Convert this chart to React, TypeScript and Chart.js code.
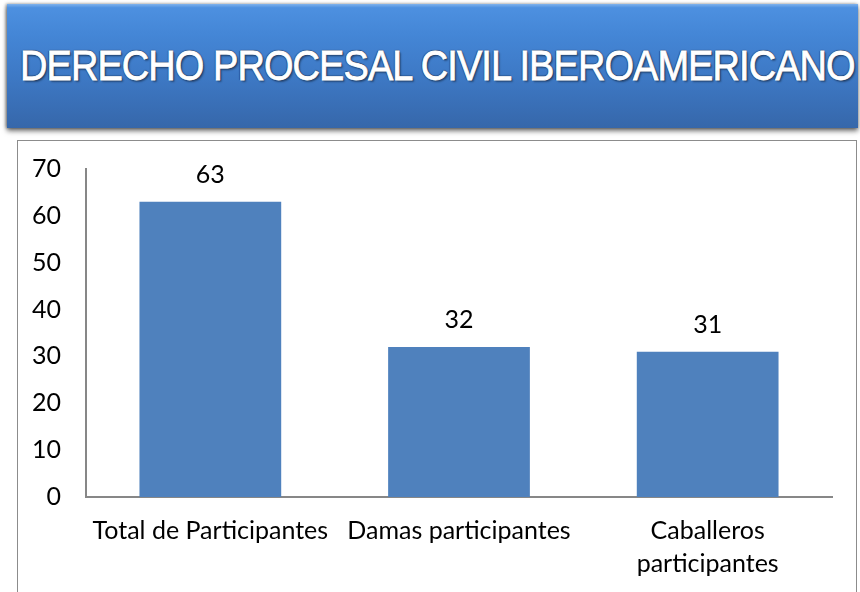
import React, { useEffect, useLayoutEffect, useRef } from "react";
import { Chart, registerables } from "chart.js";

Chart.register(...registerables);

const TITLE = "DERECHO PROCESAL CIVIL IBEROAMERICANO";
const categories: (string | string[])[] = [
  "Total de Participantes",
  "Damas participantes",
  ["Caballeros", "participantes"],
];
const values = [63, 32, 31];
const yMin = 0;
const yMax = 70;
const yStep = 10;

const FONT = "Lato, 'Open Sans', 'Noto Sans', sans-serif";
const BAR_COLOR = "#4f81bd";
const AXIS_COLOR = "#878787";

const dataLabelPlugin = {
  id: "dataLabels",
  afterDatasetsDraw(chart: any) {
    const ctx = chart.ctx;
    const meta = chart.getDatasetMeta(0);
    ctx.save();
    ctx.fillStyle = "#000";
    ctx.font = `25px ${FONT}`;
    ctx.textAlign = "center";
    ctx.textBaseline = "middle";
    meta.data.forEach((el: any, i: number) => {
      ctx.fillText(String(values[i]), el.x, el.y - 27);
    });
    ctx.restore();
  },
};

function BarChart() {
  const ref = useRef<HTMLCanvasElement>(null);
  useEffect(() => {
    if (!ref.current) return;
    const chart = new Chart(ref.current, {
      type: "bar",
      data: {
        labels: categories as any,
        datasets: [
          {
            data: values,
            backgroundColor: BAR_COLOR,
            borderWidth: 0,
            categoryPercentage: 1,
            barPercentage: 0.57,
          },
        ],
      },
      options: {
        responsive: false,
        animation: false,
        layout: { padding: { top: 28, right: 24, left: 0, bottom: 0 } },
        plugins: { legend: { display: false }, tooltip: { enabled: false } },
        scales: {
          x: {
            grid: { display: false, drawTicks: false },
            border: { display: true, color: AXIS_COLOR, width: 2 },
            ticks: {
              color: "#000",
              font: { family: FONT, size: 25, lineHeight: 1.3 },
              padding: 18,
              maxRotation: 0,
              autoSkip: false,
            },
            afterFit(scale: any) {
              scale.height = 95;
            },
          },
          y: {
            min: yMin,
            max: yMax,
            grid: { display: false, drawTicks: false },
            border: { display: true, color: AXIS_COLOR, width: 2 },
            ticks: {
              stepSize: yStep,
              color: "#000",
              font: { family: FONT, size: 25 },
              padding: 25,
            },
            afterFit(scale: any) {
              scale.width = 68;
              scale.paddingTop = 0;
              scale.paddingBottom = 0;
            },
          },
        },
      },
      plugins: [dataLabelPlugin],
    });
    return () => chart.destroy();
  }, []);
  return (
    <canvas
      ref={ref}
      width={838}
      height={451}
      style={{ position: "absolute", left: 0, top: 0, width: 838, height: 451 }}
    />
  );
}

function Title() {
  const ref = useRef<HTMLSpanElement>(null);
  useLayoutEffect(() => {
    const el = ref.current;
    if (!el) return;
    const w = el.offsetWidth;
    if (w > 0) el.style.transform = `scaleX(${835 / w})`;
  }, []);
  return (
    <span
      ref={ref}
      style={{
        position: "absolute",
        left: 20,
        top: 40,
        whiteSpace: "nowrap",
        transformOrigin: "0 0",
        fontFamily: "'Liberation Sans Narrow', 'Liberation Sans', Arial, sans-serif",
        fontSize: 43,
        lineHeight: "50px",
        color: "#fff",
        letterSpacing: -1,
        WebkitTextStroke: "0.8px #fff",
        textShadow:
          "0 0 1px #24416b, 1px 1px 1px #24416b, -1px 0 1px #24416b, 0 -1px 1px #24416b, 2px 2px 2px rgba(0,0,0,0.35)",
      }}
    >
      {TITLE}
    </span>
  );
}

export default function App() {
  return (
    <div
      style={{
        position: "absolute",
        left: 0,
        top: 0,
        width: 860,
        height: 592,
        overflow: "hidden",
        background: "#fff",
      }}
    >
      <div
        style={{
          position: "absolute",
          left: 7,
          top: 4,
          width: 851,
          height: 124,
          background:
            "linear-gradient(to bottom, #7fb2ec 0%, #4d90e0 3%, #4486d6 25%, #3d78c4 60%, #3667aa 100%)",
          boxShadow: "0 3px 5px rgba(0,0,0,0.55), -1px 0 3px rgba(0,0,0,0.4)",
        }}
      />
      <Title />
      <div
        style={{
          position: "absolute",
          left: 17,
          top: 140,
          width: 838,
          height: 470,
          border: "1.5px solid #8c8c8c",
          background: "#fff",
        }}
      >
        <BarChart />
      </div>
    </div>
  );
}
